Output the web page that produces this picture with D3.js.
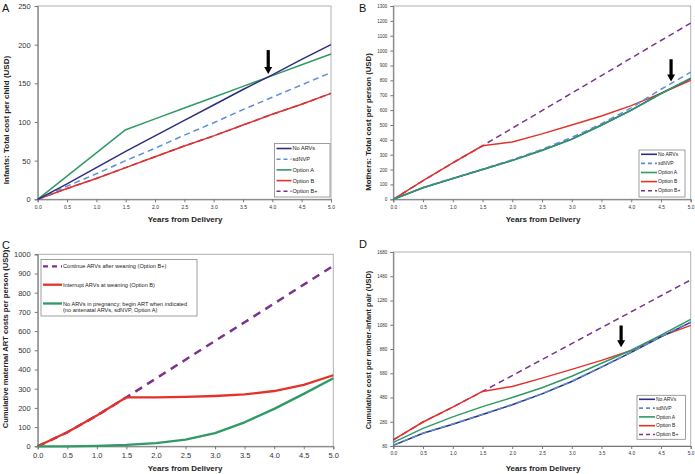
<!DOCTYPE html>
<html><head><meta charset="utf-8">
<script src="https://cdn.jsdelivr.net/npm/d3@7"></script>
<style>
html,body{margin:0;padding:0;background:#fff;}
svg{display:block;font-family:"Liberation Sans",Arial,sans-serif;}
</style></head>
<body>
<svg id="chart" width="695" height="474"></svg>
<script>
// ---------- DATA ----------
const years = [0, 0.5, 1, 1.5, 2, 2.5, 3, 3.5, 4, 4.5, 5];
const xTicks = [0, 0.5, 1, 1.5, 2, 2.5, 3, 3.5, 4, 4.5, 5];
const seriesNames = ["No ARVs", "sdNVP", "Option A", "Option B", "Option B+"];

// Panel A: infants
const infNoARV   = [0, 20, 41, 62, 82, 102, 122, 142, 161, 181, 200];
const infSdNVP   = [0, 17, 33, 50, 66, 83, 99, 116, 132, 148, 164];
const infOptA    = [0, 30, 60, 90, 104, 118, 132, 146, 160, 174, 188];
const infOptB    = [0, 14, 27, 41, 55, 69, 82, 96, 110, 123, 137];
const infOptBplus= [0, 14, 27, 41, 55, 69, 82, 96, 110, 123, 137];
const yTicksA = [0, 50, 100, 150, 200, 250];
const arrowA = {x: 3.93, from: 193, to: 162};

// Panel B: mothers
const motNoARV   = [0, 78, 140, 200, 262, 330, 405, 500, 600, 712, 812];
const motSdNVP   = [0, 80, 142, 203, 266, 336, 416, 508, 615, 740, 855];
const motOptA    = [0, 78, 139, 200, 260, 328, 403, 498, 598, 710, 815];
const motOptB    = [0, 125, 245, 360, 385, 440, 500, 560, 630, 712, 800];
const motOptBplus= [0, 125, 245, 360, 478, 596, 714, 832, 950, 1068, 1185];
const yTicksB = [0,100,200,300,400,500,600,700,800,900,1000,1100,1200,1300];
const arrowB = {x: 4.67, from: 942, to: 792};

// Panel C: cumulative maternal ART costs
const artBplus = [0, 73, 160, 255, 353, 451, 549, 646, 744, 842, 940];
const artB     = [0, 73, 160, 255, 255, 257, 262, 270, 288, 320, 370];
const artA     = [0, 0, 2, 7, 17, 35, 69, 125, 195, 273, 355];
const yTicksC = [0,100,200,300,400,500,600,700,800,900,1000];
const legendC = [
  ["Continue ARVs after weaning (Option B+)"],
  ["Interrupt ARVs at weaning (Option B)"],
  ["No ARVs in pregnancy; begin ART when indicated", "(no antenatal ARVs, sdNVP, Option A)"]
];

// Panel D: mother-infant pair
const pairNoARV   = [85, 185, 260, 340, 420, 510, 612, 730, 852, 980, 1100];
const pairSdNVP   = [87, 187, 262, 342, 423, 512, 614, 732, 854, 982, 1104];
const pairOptA    = [110, 225, 320, 405, 480, 560, 655, 762, 870, 995, 1125];
const pairOptB    = [130, 278, 401, 530, 571, 640, 712, 786, 868, 984, 1075];
const pairOptBplus= [130, 278, 401, 530, 661, 793, 924, 1056, 1187, 1319, 1450];
const yTicksD = [80, 280, 480, 680, 880, 1080, 1280, 1480, 1680];
const arrowD = {x: 3.83, from: 1074, to: 894};

// ---------- STYLE ----------
const COL = {navy:"#2e2d80", blue:"#5b8fd6", green:"#2f9a64", red:"#e4322b", purple:"#7a338f"};
const styleFor = {
  "No ARVs":  {c: COL.navy,  dash: null},
  "sdNVP":    {c: COL.blue,  dash: "6,4"},
  "Option A": {c: COL.green, dash: null},
  "Option B": {c: COL.red,   dash: null},
  "Option B+":{c: COL.purple,dash: "6,4"}
};

const svg = d3.select("#chart");

function panel(cfg) {
  const g = svg.append("g");
  const x = d3.scaleLinear().domain([0,5]).range([cfg.left, cfg.right]);
  const y = d3.scaleLinear().domain(cfg.yDomain).range([cfg.bottom, cfg.top]);

  // plot border
  g.append("rect").attr("x", cfg.left).attr("y", cfg.top)
    .attr("width", cfg.right - cfg.left).attr("height", cfg.bottom - cfg.top)
    .attr("fill", "none").attr("stroke", "#b0b0b0").attr("stroke-width", 1);

  // axes
  const ax = g.append("g").attr("transform", `translate(0,${cfg.bottom})`)
    .call(d3.axisBottom(x).tickValues(xTicks).tickFormat(d3.format(".1f")).tickSize(3).tickPadding(3));
  ax.selectAll("text").attr("font-size", cfg.xFont).attr("fill", "#333");
  const ay = g.append("g").attr("transform", `translate(${cfg.left},0)`)
    .call(d3.axisLeft(y).tickValues(cfg.yTicks).tickFormat(d3.format("d")).tickSize(3).tickPadding(cfg.yPad));
  ay.selectAll("text").attr("font-size", cfg.yFont).attr("fill", "#333");
  [ax, ay].forEach(a => {
    a.select(".domain").attr("stroke", "#777");
    a.selectAll(".tick line").attr("stroke", "#777");
  });

  // lines
  const line = d3.line().x((d,i) => x(years[i])).y(d => y(d));
  cfg.series.forEach(s => {
    g.append("path").datum(s.values).attr("d", line)
      .attr("fill", "none").attr("stroke", s.color)
      .attr("stroke-width", s.width || 1.5)
      .attr("stroke-dasharray", s.dash)
      .attr("stroke-linejoin", "round");
  });

  // arrow
  if (cfg.arrow) {
    const ax0 = x(cfg.arrow.x), y0 = y(cfg.arrow.from), y1 = y(cfg.arrow.to);
    g.append("line").attr("x1", ax0).attr("x2", ax0).attr("y1", y0).attr("y2", y1 - 6)
      .attr("stroke", "#000").attr("stroke-width", 3.2);
    g.append("path").attr("d", `M${ax0-4},${y1-7}L${ax0+4},${y1-7}L${ax0},${y1}Z`).attr("fill", "#000");
  }

  // axis titles
  g.append("text").attr("transform", `translate(${cfg.yTitleX},${cfg.yTitleY}) rotate(-90)`)
    .attr("text-anchor", "middle").attr("font-weight", "bold").attr("font-size", cfg.yTitleFont)
    .attr("fill", "#222").text(cfg.yTitle);
  g.append("text").attr("x", cfg.xTitleX).attr("y", cfg.xTitleY)
    .attr("text-anchor", "middle").attr("font-weight", "bold").attr("font-size", 8)
    .attr("fill", "#222").text("Years from Delivery");

  // panel letter
  g.append("text").attr("x", cfg.letterX).attr("y", cfg.letterY)
    .attr("font-size", 11).attr("fill", "#111").text(cfg.letter);

  // legend (5 series style)
  if (cfg.legend) {
    const L = cfg.legend;
    g.append("rect").attr("x", L.x).attr("y", L.y).attr("width", L.w).attr("height", L.h)
      .attr("fill", "#fff").attr("stroke", "#888").attr("stroke-width", 0.8);
    seriesNames.forEach((n, i) => {
      const st = styleFor[n];
      const yy = L.y + L.first + i * L.step;
      g.append("line").attr("x1", L.x + 2).attr("x2", L.x + 2 + L.lineW).attr("y1", yy).attr("y2", yy)
        .attr("stroke", st.c).attr("stroke-width", 1.6).attr("stroke-dasharray", st.dash ? "4,3" : null);
      g.append("text").attr("x", L.x + 3 + L.lineW).attr("y", yy + L.font * 0.35)
        .attr("font-size", L.font).attr("fill", "#222").text(n);
    });
  }
  return {g, x, y};
}

// Panel A
panel({
  left: 37.7, right: 331, top: 6, bottom: 199.3, yDomain: [0, 250], yTicks: yTicksA,
  xFont: 5, yFont: 7.5, yPad: 4,
  series: [
    {values: infOptBplus, color: COL.purple, dash: "6,4"},
    {values: infOptB, color: COL.red},
    {values: infSdNVP, color: COL.blue, dash: "6,4"},
    {values: infOptA, color: COL.green},
    {values: infNoARV, color: COL.navy}
  ],
  arrow: arrowA,
  yTitle: "Infants: Total cost per child (USD)", yTitleX: 8.5, yTitleY: 120, yTitleFont: 8,
  xTitleX: 185, xTitleY: 222,
  letter: "A", letterX: 2, letterY: 12,
  legend: {x: 274.5, y: 143.5, w: 55.5, h: 53.5, first: 5, step: 10.7, lineW: 15, font: 5.6}
});

// Panel B
panel({
  left: 393.3, right: 690.7, top: 6, bottom: 199.3, yDomain: [0, 1300], yTicks: yTicksB,
  xFont: 4.8, yFont: 4.5, yPad: 3,
  series: [
    {values: motOptBplus, color: COL.purple, dash: "6,4"},
    {values: motOptB, color: COL.red},
    {values: motNoARV, color: COL.navy},
    {values: motSdNVP, color: COL.blue, dash: "6,4"},
    {values: motOptA, color: COL.green}
  ],
  arrow: arrowB,
  yTitle: "Mothers: Total cost per person (USD)", yTitleX: 371, yTitleY: 122, yTitleFont: 7.8,
  xTitleX: 543, xTitleY: 222,
  letter: "B", letterX: 359, letterY: 12,
  legend: {x: 639, y: 150, w: 46, h: 47, first: 4.3, step: 9.1, lineW: 16, font: 5}
});

// Panel C
const pC = panel({
  left: 37.7, right: 333.3, top: 254.3, bottom: 446.3, yDomain: [0, 1000], yTicks: yTicksC,
  xFont: 7.5, yFont: 7.5, yPad: 4,
  series: [
    {values: artBplus, color: COL.purple, dash: "8,6", width: 2.5},
    {values: artB, color: COL.red, width: 2.3},
    {values: artA, color: COL.green, width: 2.3}
  ],
  yTitle: "Cumulative maternal ART costs per person (USD)", yTitleX: 8, yTitleY: 339, yTitleFont: 7.6,
  xTitleX: 185, xTitleY: 471,
  letter: "C", letterX: 2, letterY: 249
});
// Legend C
(function(){
  const g = pC.g;
  const lx = 41, ly = 259.5, lw = 156, lh = 56.5;
  g.append("rect").attr("x", lx).attr("y", ly).attr("width", lw).attr("height", lh)
    .attr("fill", "#fff").attr("stroke", "#888").attr("stroke-width", 0.8);
  const items = [
    {c: COL.purple, dash: "5,4", yy: 266.3},
    {c: COL.red, dash: null, yy: 284.7},
    {c: COL.green, dash: null, yy: 303.5}
  ];
  legendC.forEach((lines, i) => {
    const it = items[i];
    g.append("line").attr("x1", lx + 2).attr("x2", lx + 21).attr("y1", it.yy).attr("y2", it.yy)
      .attr("stroke", it.c).attr("stroke-width", 2.3).attr("stroke-dasharray", it.dash);
    lines.forEach((t, j) => {
      g.append("text").attr("x", lx + 22).attr("y", it.yy + 2 + j * 6.7)
        .attr("font-size", 5.6).attr("fill", "#222").text(t);
    });
  });
})();

// Panel D
panel({
  left: 393.3, right: 690.7, top: 252, bottom: 446, yDomain: [80, 1680], yTicks: yTicksD,
  xFont: 4.8, yFont: 4.5, yPad: 3,
  series: [
    {values: pairOptBplus, color: COL.purple, dash: "6,4"},
    {values: pairOptB, color: COL.red},
    {values: pairOptA, color: COL.green},
    {values: pairNoARV, color: COL.navy},
    {values: pairSdNVP, color: COL.blue, dash: "6,4"}
  ],
  arrow: arrowD,
  yTitle: "Cumulative cost per mother-infant pair (USD)", yTitleX: 371, yTitleY: 350, yTitleFont: 7.4,
  xTitleX: 543, xTitleY: 471,
  letter: "D", letterX: 359, letterY: 248,
  legend: {x: 637, y: 395.3, w: 48.5, h: 44, first: 4, step: 8.8, lineW: 16, font: 5}
});
</script>
</body></html>
